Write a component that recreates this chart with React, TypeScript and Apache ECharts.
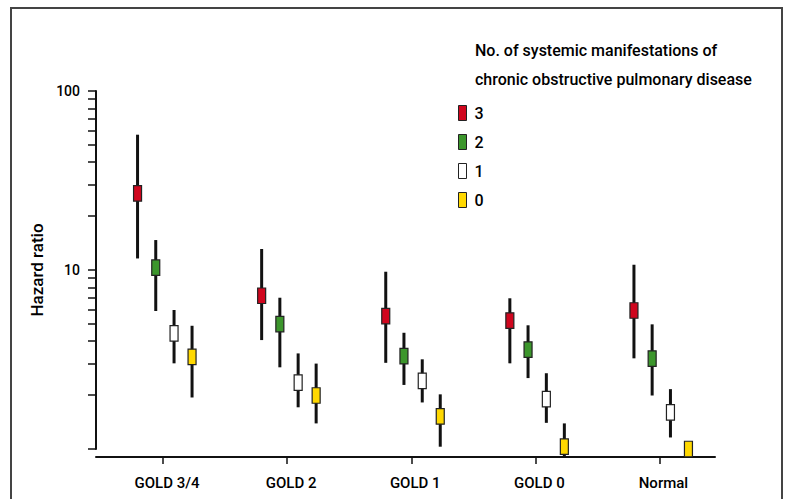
import React, { useEffect, useRef } from "react";
import * as echarts from "echarts";

const categories = ["GOLD 3/4", "GOLD 2", "GOLD 1", "GOLD 0", "Normal"];
const seriesNames = ["3", "2", "1", "0"];
const seriesColors = ["#d0061e", "#3c962c", "#ffffff", "#ffd800"];

// [low, estimate, high] per category
const hr3 = [
  [11.6, 26.8, 57],
  [4.06, 7.18, 13.1],
  [3.03, 5.53, 9.78],
  [3.01, 5.22, 6.95],
  [3.21, 5.94, 10.7],
];
const hr2 = [
  [5.9, 10.3, 14.7],
  [2.86, 4.99, 7.0],
  [2.28, 3.3, 4.46],
  [2.49, 3.59, 4.91],
  [1.99, 3.2, 4.97],
];
const hr1 = [
  [3.01, 4.43, 5.98],
  [1.71, 2.35, 3.42],
  [1.82, 2.4, 3.17],
  [1.4, 1.9, 2.65],
  [1.16, 1.6, 2.16],
];
const hr0 = [
  [1.94, 3.27, 4.88],
  [1.39, 1.99, 3.0],
  [1.03, 1.52, 2.02],
  [0.9, 1.03, 1.39],
  [1.0, 1.0, 1.0],
];
const allSeries = [hr3, hr2, hr1, hr0];

const yTickValues = [1, 2, 3, 4, 5, 6, 7, 8, 9, 10, 20, 30, 40, 50, 60, 70, 80, 90, 100];
const yLabelValues = [10, 100];

const FONT = "Roboto, 'Liberation Sans', sans-serif";
const offsets = [-25.5, -7.3, 11, 29];

export default function App() {
  const ref = useRef<HTMLDivElement>(null);
  useEffect(() => {
    if (!ref.current) return;
    const chart = echarts.init(ref.current, null, { renderer: "svg" });
    const series = allSeries.map((arr, si) => ({
      type: "custom",
      name: seriesNames[si],
      xAxisIndex: 0,
      yAxisIndex: 0,
      itemStyle: { color: seriesColors[si], borderColor: "#222", borderWidth: 1 },
      encode: { x: 0, y: [1, 2, 3] },
      data: arr.map((d, i) => [i, d[0], d[1], d[2]]),
      renderItem: (params: any, api: any) => {
        const x = api.value(0);
        const lo = api.coord([x, api.value(1)]);
        const est = api.coord([x, api.value(2)]);
        const hi = api.coord([x, api.value(3)]);
        const cx = est[0] + offsets[si];
        return {
          type: "group",
          children: [
            {
              type: "line",
              shape: { x1: cx, y1: hi[1], x2: cx, y2: lo[1] },
              style: { stroke: "#111", lineWidth: 3 },
            },
            {
              type: "rect",
              shape: { x: cx - 4, y: est[1] - 7.75, width: 8, height: 15.5 },
              style: { fill: seriesColors[si], stroke: "#222", lineWidth: 1.2 },
            },
          ],
        };
      },
    }));

    chart.setOption({
      animation: false,
      backgroundColor: "#ffffff",
      textStyle: { fontFamily: FONT, color: "#000" },
      title: {
        text: "No. of systemic manifestations of\nchronic obstructive pulmonary disease",
        left: 475,
        top: 36,
        padding: 0,
        textStyle: { fontFamily: FONT, fontSize: 16, fontWeight: 500, color: "#000", lineHeight: 29 },
      },
      legend: {
        orient: "vertical",
        left: 458,
        top: 103,
        padding: 0,
        itemWidth: 8,
        itemHeight: 15,
        itemGap: 9,
        selectedMode: false,
        textStyle: { fontFamily: FONT, fontSize: 16, fontWeight: 500, color: "#000", padding: [0, 0, 0, 3], lineHeight: 20 },
        data: seriesNames.map((n, i) => ({
          name: n,
          icon: "rect",
          itemStyle: { color: seriesColors[i], borderColor: "#222", borderWidth: 1 },
        })),
      },
      graphic: [
        {
          type: "rect",
          shape: { x: 11, y: 8, width: 771, height: 520 },
          style: { fill: "none", stroke: "#444", lineWidth: 2 },
          silent: true,
        },
      ],
      grid: [
        { left: 101, right: 66.5, top: 91, bottom: 50 },
        { left: 96, right: 73, top: 91, bottom: 42 },
      ],
      xAxis: [
        {
          type: "category",
          gridIndex: 0,
          data: categories,
          offset: 8,
          axisLine: { show: false },
          axisTick: { show: true, alignWithLabel: true, length: 7, lineStyle: { color: "#111", width: 1.5 } },
          axisLabel: { fontFamily: FONT, fontSize: 15, fontWeight: 500, color: "#000", margin: 18, padding: [0, 0, 0, 8] },
          splitLine: { show: false },
        },
        {
          type: "value",
          gridIndex: 1,
          min: 0,
          max: 1,
          axisLine: { show: true, lineStyle: { color: "#111", width: 2 } },
          axisTick: { show: false },
          axisLabel: { show: false },
          splitLine: { show: false },
        },
      ],
      yAxis: [
        {
          type: "log",
          gridIndex: 0,
          logBase: 10,
          min: 1,
          max: 100,
          offset: 5,
          name: "Hazard ratio",
          nameLocation: "middle",
          nameGap: 43,
          nameTextStyle: { fontFamily: FONT, fontSize: 17, fontWeight: 500, color: "#000" },
          axisLine: { show: true, lineStyle: { color: "#111", width: 2 } },
          axisTick: { show: true, length: 8, customValues: yTickValues, lineStyle: { color: "#111", width: 1.5 } },
          axisLabel: { fontFamily: FONT, fontSize: 14, fontWeight: 500, color: "#000", margin: 16, customValues: yLabelValues },
          splitLine: { show: false },
          minorTick: { show: false },
        },
        {
          type: "value",
          gridIndex: 1,
          show: false,
          min: 0,
          max: 1,
        },
      ],
      series,
    });
    return () => chart.dispose();
  }, []);
  return (
    <div
      ref={ref}
      style={{ position: "fixed", left: 0, top: 0, width: 788, height: 499, background: "#fff" }}
    />
  );
}
